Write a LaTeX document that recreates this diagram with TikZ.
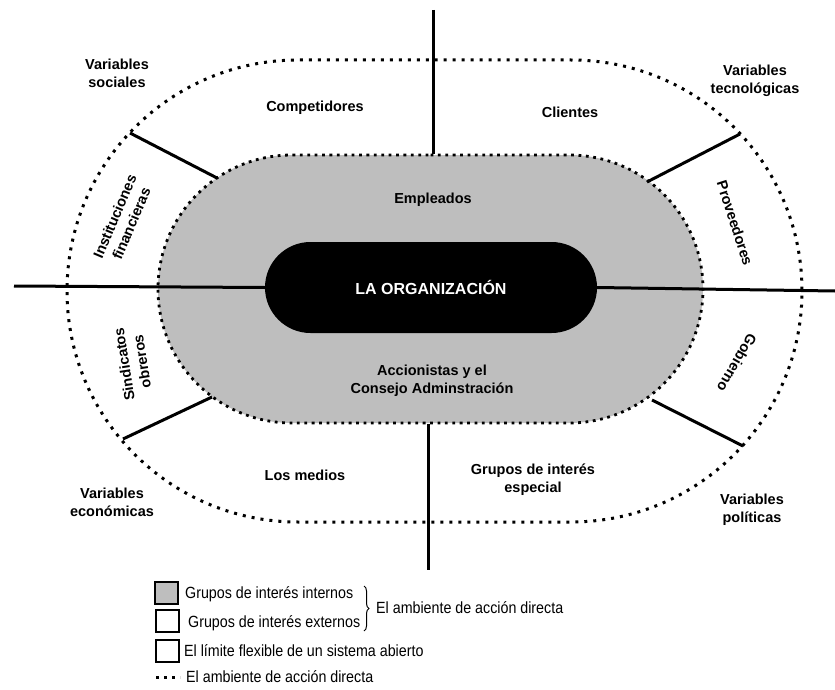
\documentclass[tikz,border=0pt]{standalone}
\usepackage{fontspec}
\setmainfont{Liberation Sans}
\newfontfamily\legfont[FakeStretch=0.88]{Liberation Sans}
\usetikzlibrary{shapes.misc,decorations.pathreplacing}
\definecolor{grayfill}{RGB}{190,190,190}
\tikzset{
  lbl/.style={font=\bfseries\fontsize{14.5}{18}\selectfont, align=center, inner sep=0pt},
  leg/.style={font=\legfont\fontsize{16.2}{18}\selectfont, anchor=west, inner sep=0pt},
  stadium/.style={rounded rectangle, inner sep=0pt},
  bigdots/.style={line width=3pt, dash pattern=on 3pt off 6pt},
  smalldots/.style={line width=2.8pt, dash pattern=on 2.8pt off 4.6pt},
  solidline/.style={line width=3pt},
  legbox/.style={draw, line width=1.4pt, minimum width=23pt, minimum height=22pt, inner sep=0pt},
}
\begin{document}
\begin{tikzpicture}[x=1pt,y=-1pt]
\useasboundingbox (0,0) rectangle (835,690);
% outer environment boundary
\node[stadium, draw, bigdots, minimum width=735pt, minimum height=462pt] (outer) at (434.5,291) {};
% internal stakeholders
\node[stadium, fill=grayfill, draw, smalldots, minimum width=545pt, minimum height=268pt] (inner) at (430.5,289) {};
% organization
\node[stadium, fill=black, minimum width=332pt, minimum height=91pt, text=white,
      font=\bfseries\fontsize{16}{18}\selectfont] (org) at (431,287.5) {LA ORGANIZACIÓN};

% axes
\coordinate (Lend) at (14,286);
\coordinate (Rend) at (835,291);
\coordinate (Ttop) at (433,10);
\coordinate (Bbot) at (428,570);
\draw[solidline] (Lend) -- (org.west);
\draw[solidline] (org.east) -- (Rend);
\draw[solidline] (Ttop) -- (Ttop |- inner.north);
\draw[solidline] (Bbot |- inner.south) -- (Bbot);

% diagonal separators
\coordinate (ulo) at (130,133); \coordinate (uli) at (217,178);
\coordinate (uro) at (740,134); \coordinate (uri) at (647,182);
\coordinate (llo) at (123,439); \coordinate (lli) at (212,397);
\coordinate (lro) at (743,446); \coordinate (lri) at (652,400);
\draw[solidline] (ulo) -- (uli);
\draw[solidline] (uro) -- (uri);
\draw[solidline] (llo) -- (lli);
\draw[solidline] (lro) -- (lri);

% labels
\node[lbl] (vsoc) at (117,73) {Variables\\sociales};
\node[lbl] (comp) at (315,108) {Competidores};
\node[lbl] (cli) at (570,112) {Clientes};
\node[lbl] (vtec) at (755,81) {Variables\\tecnológicas};
\node[lbl] (emp) at (433,200) {Empleados};
\node[lbl, rotate=67] (inst) at (123,220) {Instituciones\\financieras};
\node[lbl, rotate=-72] (prov) at (735,223) {Proveedores};
\node[lbl, rotate=99] (sind) at (133,363) {Sindicatos\\obreros};
\node[lbl, rotate=-120] (gob) at (737,363) {Gobierno};
\node[lbl] (acc) at (432,381) {Accionistas y el\\Consejo Adminstración};
\node[lbl] (med) at (305,475) {Los medios};
\node[lbl] (gie) at (533,480) {Grupos de interés\\especial};
\node[lbl] (veco) at (112,502) {Variables\\económicas};
\node[lbl] (vpol) at (752,510) {Variables\\políticas};

% legend
\node[legbox, fill=grayfill] (b1) at (166.5,593) {};
\node[legbox] (b2) at (167.5,621) {};
\node[legbox] (b3) at (167.5,651) {};
\node[leg] (t1) at (185,594) {Grupos de interés internos};
\node[leg] (t2) at (188,623) {Grupos de interés externos};
\node[leg] (t3) at (184,651) {El límite flexible de un sistema abierto};
\node[leg] (t4) at (186,677) {El ambiente de acción directa};
\coordinate (d1) at (156,677.5);
\coordinate (d2) at (180,677.5);
\draw[line width=3pt, dash pattern=on 3pt off 5pt] (d1) -- (d2);
\coordinate (brt) at (364,586);
\coordinate (brb) at (364,631);
\draw[line width=1pt, decorate, decoration={brace, amplitude=5pt}] (brt) -- (brb);
\node[leg] (t5) at (376,608) {El ambiente de acción directa};
\end{tikzpicture}
\end{document}
